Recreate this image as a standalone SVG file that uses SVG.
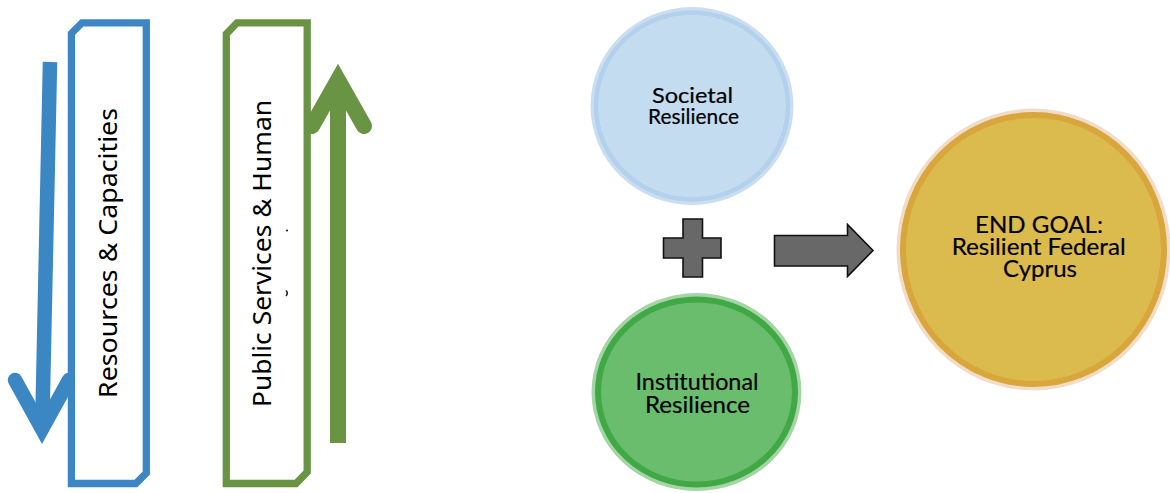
<svg xmlns="http://www.w3.org/2000/svg" width="1170" height="493" viewBox="0 0 1170 493">
<style>
.lbl{font-family:Lato,"Noto Sans","Liberation Sans",sans-serif;fill:#000;stroke:#000;stroke-width:0.2;text-anchor:middle}
.vt{font-family:"Noto Sans","Liberation Sans",sans-serif;font-size:25px;fill:#000;text-anchor:middle}
.box{fill:#fff;stroke-width:7.3;stroke-linejoin:miter}
.op{fill:#686868;stroke:#111;stroke-width:1.6}
</style>
<rect width="1170" height="493" fill="#fff"/>
<g id="connectors">
  <g id="arrow-down">
    <line x1="50" y1="62" x2="42.3" y2="424" stroke="#3b87c4" stroke-width="14.5"/>
    <polyline points="15,380 42,429 69,380" fill="none" stroke="#3b87c4" stroke-width="14.5" stroke-linecap="round" stroke-linejoin="miter" stroke-miterlimit="10"/>
  </g>
  <g id="arrow-up">
    <line x1="338" y1="443" x2="338" y2="85" stroke="#699444" stroke-width="16"/>
    <polyline points="312,126 338,80 364,126" fill="none" stroke="#699444" stroke-width="16" stroke-linecap="round" stroke-linejoin="miter" stroke-miterlimit="10"/>
  </g>
  <polygon id="arrow-right" class="op" points="774.5,235.5 847.5,235.5 847.5,224.5 873,250.5 847.5,276.5 847.5,266 774.5,266"/>
  <polygon id="plus" class="op" points="683,219 702.5,219 702.5,238 721,238 721,258 702.5,258 702.5,277 683,277 683,258 663.5,258 663.5,238 683,238"/>
</g>
<g id="resources">
  <path class="box" stroke="#3d86c5" d="M82,22.8 L146.3,22.8 L146.3,473 L135.8,483.5 L71.4,483.5 L71.4,33.5 Z"/>
  <text class="vt" transform="translate(117,253) rotate(-90)" textLength="290" lengthAdjust="spacingAndGlyphs">Resources &amp; Capacities</text>
</g>
<g id="public-services">
  <path class="box" stroke="#699444" d="M237,22.8 L307.2,22.8 L307.2,472 L296,483.5 L226.3,483.5 L226.3,34 Z"/>
  <text class="vt" transform="translate(271,253.5) rotate(-90)" textLength="307" lengthAdjust="spacingAndGlyphs">Public Services &amp; Human</text>
  <circle cx="287" cy="230.5" r="1.1" fill="#222"/>
  <path d="M286,290.5 Q288.5,293 286,296" fill="none" stroke="#222" stroke-width="1.6"/>
</g>
<g id="societal">
  <ellipse cx="692" cy="106" rx="101.5" ry="99" fill="#c9def0"/>
  <ellipse cx="692" cy="106" rx="96" ry="93.5" fill="#c4dcf0" stroke="#b3d1ec" stroke-width="4.5"/>
  <text class="lbl" x="692.5" y="102.7" font-size="21" textLength="81" lengthAdjust="spacingAndGlyphs">Societal</text>
  <text class="lbl" x="693.5" y="123.5" font-size="21" textLength="91" lengthAdjust="spacingAndGlyphs">Resilience</text>
</g>
<g id="institutional">
  <ellipse cx="696.5" cy="392" rx="105" ry="99" fill="#a4d5a4"/>
  <ellipse cx="696.5" cy="392" rx="98.5" ry="92.5" fill="#6abd6d" stroke="#40a845" stroke-width="6"/>
  <text class="lbl" x="697" y="390" font-size="23" textLength="123" lengthAdjust="spacingAndGlyphs">Institutional</text>
  <text class="lbl" x="697.5" y="413" font-size="23" textLength="105" lengthAdjust="spacingAndGlyphs">Resilience</text>
</g>
<g id="end-goal">
  <ellipse cx="1033.5" cy="249.5" rx="137" ry="141" fill="#f1dcc8"/>
  <ellipse cx="1033.5" cy="249.5" rx="130.5" ry="134.5" fill="#dbbb4d" stroke="#d9a63b" stroke-width="6"/>
  <text class="lbl" x="1039" y="232.7" font-size="23" textLength="128" lengthAdjust="spacingAndGlyphs">END GOAL:</text>
  <text class="lbl" x="1038.7" y="255" font-size="23" textLength="174" lengthAdjust="spacingAndGlyphs">Resilient Federal</text>
  <text class="lbl" x="1040" y="277" font-size="23" textLength="74" lengthAdjust="spacingAndGlyphs">Cyprus</text>
</g>
</svg>
